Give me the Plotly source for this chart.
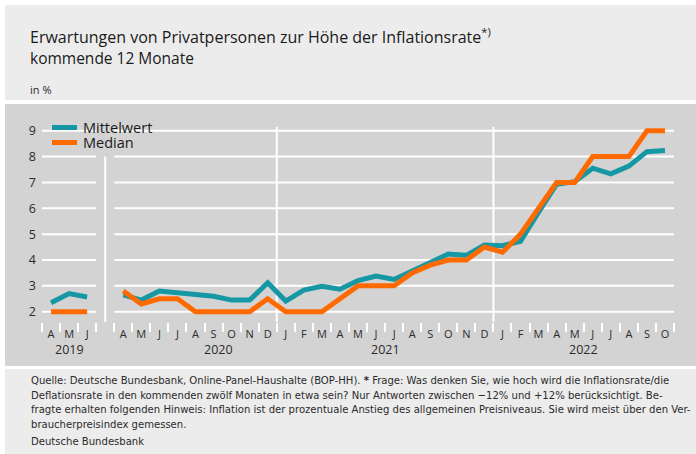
import plotly.graph_objects as go

# ---------------- data ----------------
months_2019 = ["A", "M", "J"]
months_rest = ["A", "M", "J", "J", "A", "S", "O", "N", "D",
               "J", "F", "M", "A", "M", "J", "J", "A", "S", "O", "N", "D",
               "J", "F", "M", "A", "M", "J", "J", "A", "S", "O"]

mittel_2019 = [2.35, 2.70, 2.57]
median_2019 = [2.0, 2.0, 2.0]

mittel_rest = [2.65, 2.45, 2.80, 2.75, 2.67, 2.60, 2.45, 2.45, 3.12,
               2.41, 2.84, 2.98, 2.87, 3.20, 3.38, 3.25, 3.58, 3.90, 4.23, 4.18, 4.58,
               4.55, 4.72, 5.85, 6.93, 7.03, 7.55, 7.33, 7.63, 8.19, 8.23]
median_rest = [2.8, 2.3, 2.5, 2.5, 2.0, 2.0, 2.0, 2.0, 2.5,
               2.0, 2.0, 2.0, 2.5, 3.0, 3.0, 3.0, 3.5, 3.8, 4.0, 4.0, 4.5,
               4.3, 5.0, 6.0, 7.0, 7.0, 8.0, 8.0, 8.0, 9.0, 9.0]

series_names = ["Mittelwert", "Median"]
years = ["2019", "2020", "2021", "2022"]
year_label_pos = [1.0, 9.25, 18.5, 29.5]
year_separators = [3.0, 12.5, 24.5]
y_ticks = [2, 3, 4, 5, 6, 7, 8, 9]

# ---------------- derived positions ----------------
x_2019 = list(range(len(months_2019)))
x_rest = [len(months_2019) + 1 + i for i in range(len(months_rest))]
x_all = x_2019 + [None] + x_rest
mittel_all = mittel_2019 + [None] + mittel_rest
median_all = median_2019 + [None] + median_rest

TEAL = "#1598a4"
ORANGE = "#ff6a00"
PANEL = "#d3d3d3"
LIGHT = "#ececec"
TXT = "#2b2b2b"
FOOT_FONT = "Liberation Sans Narrow, DejaVu Sans Condensed, sans-serif"

W, H = 696, 454
L, R, T, B = 42, 674, 105, 322
PW, PH = R - L, B - T
PX_PER_UNIT = 25.86
Y9 = 130.7
y_lo = 9 - (B - Y9) / PX_PER_UNIT
y_hi = 9 + (Y9 - T) / PX_PER_UNIT
x_lo, x_hi = -0.5, x_rest[-1] + 0.5


def px(xp):
    return (xp - L) / PW


def py(yp):
    return (B - yp) / PH


fig = go.Figure()
fig.add_trace(go.Scatter(x=x_all, y=mittel_all, mode="lines", name=series_names[0],
                         line=dict(color=TEAL, width=5), connectgaps=False, showlegend=False))
fig.add_trace(go.Scatter(x=x_all, y=median_all, mode="lines", name=series_names[1],
                         line=dict(color=ORANGE, width=5), connectgaps=False, showlegend=False))

shapes = []
# panels
shapes.append(dict(type="rect", xref="paper", yref="paper", x0=px(5), x1=px(W + 2),
                   y0=py(100), y1=py(5), fillcolor=LIGHT, line=dict(width=0), layer="below"))
shapes.append(dict(type="rect", xref="paper", yref="paper", x0=px(5), x1=px(W + 2),
                   y0=py(366), y1=py(104), fillcolor=PANEL, line=dict(width=0), layer="below"))
shapes.append(dict(type="rect", xref="paper", yref="paper", x0=px(5), x1=px(W + 2),
                   y0=py(H + 2), y1=py(369), fillcolor=LIGHT, line=dict(width=0), layer="below"))
# gridlines (broken at the 2019 gap)
for v in y_ticks:
    shapes.append(dict(type="line", xref="x", yref="y", x0=x_lo, x1=x_2019[-1] + 0.5, y0=v, y1=v,
                       line=dict(color="white", width=2), layer="below"))
    shapes.append(dict(type="line", xref="x", yref="y", x0=x_rest[0] - 0.5, x1=x_hi, y0=v, y1=v,
                       line=dict(color="white", width=2), layer="below"))
# year separators
for i, xs in enumerate(year_separators):
    top = 8.0 if i == 0 else 9.15
    shapes.append(dict(type="line", xref="x", yref="y", x0=xs, x1=xs, y0=top,
                       y1=9 - (352 - Y9) / PX_PER_UNIT,
                       line=dict(color="white", width=2), layer="below"))
# legend box (covers gridline) + samples
shapes.append(dict(type="rect", xref="paper", yref="paper", x0=px(45), x1=px(154),
                   y0=py(151), y1=py(119), fillcolor=PANEL, line=dict(width=0), layer="below"))
legend_rows_y = [127.5, 142.5]
for c, yy in zip([TEAL, ORANGE], legend_rows_y):
    shapes.append(dict(type="line", xref="paper", yref="paper", x0=px(52), x1=px(77),
                       y0=py(yy), y1=py(yy), line=dict(color=c, width=5)))

annotations = []
for nm, yy in zip(series_names, legend_rows_y):
    annotations.append(dict(text=nm, xref="paper", yref="paper", x=px(81), y=py(yy),
                            xanchor="left", yanchor="middle", showarrow=False,
                            font=dict(size=14.5, color="#1a1a1a", family="Open Sans")))
annotations.append(dict(text="Erwartungen von Privatpersonen zur Höhe der Inflationsrate<sup>*)</sup>",
                        xref="paper", yref="paper", x=px(28), y=py(36), xanchor="left", yanchor="middle",
                        showarrow=False, font=dict(size=16, color="#1a1a1a", family="Open Sans")))
annotations.append(dict(text="kommende 12 Monate",
                        xref="paper", yref="paper", x=px(28), y=py(58), xanchor="left", yanchor="middle",
                        showarrow=False, font=dict(size=15.5, color="#1a1a1a", family="Open Sans")))
annotations.append(dict(text="in %",
                        xref="paper", yref="paper", x=px(28), y=py(89), xanchor="left", yanchor="middle",
                        showarrow=False, font=dict(size=11, color=TXT, family="Open Sans")))
for yl, xp in zip(years, year_label_pos):
    annotations.append(dict(text=yl, xref="x", yref="paper", x=xp, y=py(349),
                            xanchor="center", yanchor="middle", showarrow=False,
                            font=dict(size=12.5, color=TXT, family="Open Sans")))
footer = ("Quelle: Deutsche Bundesbank, Online-Panel-Haushalte (BOP-HH). <b>*</b> Frage: Was denken Sie, wie hoch wird die Inflationsrate/die<br>"
          "Deflationsrate in den kommenden zwölf Monaten in etwa sein? Nur Antworten zwischen −12% und +12% berücksichtigt. Be-<br>"
          "fragte erhalten folgenden Hinweis: Inflation ist der prozentuale Anstieg des allgemeinen Preisniveaus. Sie wird meist über den Ver-<br>"
          "braucherpreisindex gemessen.")
annotations.append(dict(text=footer, xref="paper", yref="paper", x=px(29), y=py(372),
                        xanchor="left", yanchor="top", align="left", showarrow=False,
                        font=dict(size=11.2, color=TXT, family=FOOT_FONT)))
annotations.append(dict(text="Deutsche Bundesbank", xref="paper", yref="paper", x=px(29), y=py(441),
                        xanchor="left", yanchor="middle", showarrow=False,
                        font=dict(size=11.2, color=TXT, family=FOOT_FONT)))

fig.update_layout(
    width=W, height=H, autosize=False,
    margin=dict(l=L, r=W - R, t=T, b=H - B, pad=0),
    paper_bgcolor="white", plot_bgcolor="rgba(0,0,0,0)",
    font=dict(family="Open Sans", color=TXT),
    showlegend=False,
    shapes=shapes, annotations=annotations,
    xaxis=dict(range=[x_lo, x_hi], showgrid=False, zeroline=False, showline=False,
               tickmode="array", tickvals=x_2019 + x_rest, ticktext=months_2019 + months_rest,
               ticks="", ticklabelstandoff=4, tickfont=dict(size=11, color=TXT),
               minor=dict(tick0=-0.5, dtick=1, ticks="outside", ticklen=9,
                          tickcolor="white", tickwidth=2, showgrid=False)),
    yaxis=dict(range=[y_lo, y_hi], showgrid=False, zeroline=False, showline=False,
               tickmode="array", tickvals=y_ticks, ticks="", ticklabelstandoff=5,
               tickfont=dict(size=12.5, color=TXT)),
)

fig.write_html("out.html", config={"displayModeBar": False},
               post_script="document.body.style.margin='0px';document.body.style.overflow='hidden';")
